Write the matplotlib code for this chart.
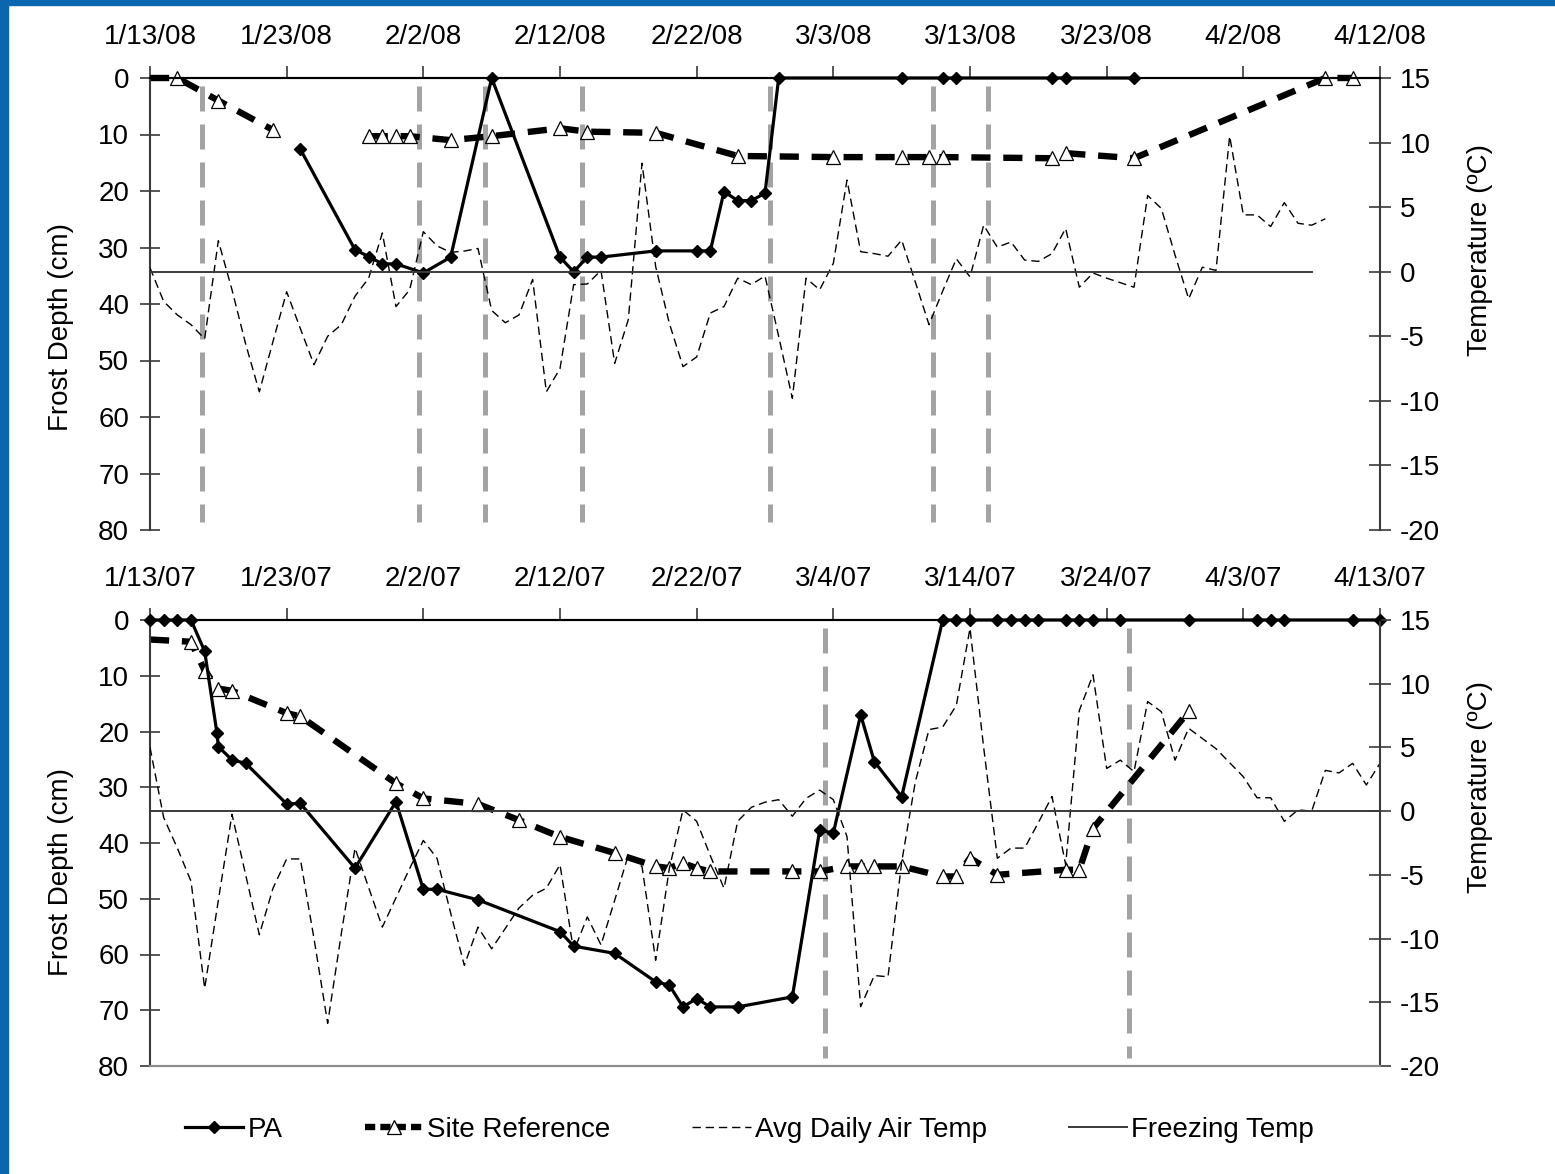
import matplotlib
matplotlib.use('Agg')
import matplotlib.pyplot as plt
from matplotlib.lines import Line2D
from matplotlib.patches import Rectangle
import numpy as np

plt.rcParams['font.family'] = ['Liberation Sans', 'DejaVu Sans']
plt.rcParams['axes.unicode_minus'] = False

# ---- 2008 season (days after 1/13/08) ----
date_labels_08 = ['1/13/08', '1/23/08', '2/2/08', '2/12/08', '2/22/08',
                  '3/3/08', '3/13/08', '3/23/08', '4/2/08', '4/12/08']
pa_day_08 = [11, 15, 16, 17, 18, 20, 22, 25, 30, 31, 32, 33, 37, 40, 41, 42,
             43, 44, 45, 46, 55, 58, 59, 66, 67, 72]
pa_depth_08 = [12.6, 30.4, 31.6, 32.9, 32.9, 34.5, 31.7, 0, 31.7, 34.3, 31.7,
               31.7, 30.6, 30.6, 30.6, 20.1, 21.7, 21.7, 20.4, 0, 0, 0, 0, 0, 0, 0]
ref_day_08 = [0, 2, 5, 9, np.nan, 16, 17, 18, 19, 22, 25, 30, 32, 37, 43, 50,
              55, 57, 58, 66, 67, 72, 86, 88]
ref_depth_08 = [0, 0, 4.0, 9.2, np.nan, 10.3, 10.3, 10.3, 10.3, 11.0, 10.3, 8.9,
                9.5, 9.7, 13.8, 14.0, 14.0, 14.0, 14.0, 14.2, 13.3, 14.2, 0, 0]
air_temp_08 = [0.3, -2.3, -3.35, -4.1, -5.2, 2.4, -1.4, -5.6, -9.3, -5.4,
               -1.55, -4.4, -7.2, -5.0, -4.1, -1.9, -0.5, 3.0, -2.7, -1.4,
               3.1, 2.0, 1.5, 1.6, 1.8, -3.0, -3.95, -3.35, -0.6, -9.3,
               -7.5, -1.0, -0.95, 0.1, -7.1, -3.7, 8.4, 0.4, -4.0, -7.35,
               -6.6, -3.2, -2.7, -0.5, -1.0, -0.33, -5.0, -9.8, -0.5, -1.4,
               0.65, 7.1, 1.55, 1.4, 1.2, 2.45, -0.8, -4.1, -1.5, 1.0,
               -0.4, 3.6, 1.9, 2.3, 0.9, 0.8, 1.4, 3.35, -1.2, -0.1,
               -0.5, -0.85, -1.2, 5.9, 4.9, 1.3, -2.1, 0.35, 0.1, 10.5,
               4.4, 4.4, 3.5, 5.35, 3.75, 3.6, 4.1]
freeze_day_08 = [0, 85]
event_day_08 = [3.8, 19.7, 24.5, 31.6, 45.4, 57.3, 61.3]

# ---- 2007 season (days after 1/13/07) ----
date_labels_07 = ['1/13/07', '1/23/07', '2/2/07', '2/12/07', '2/22/07',
                  '3/4/07', '3/14/07', '3/24/07', '4/3/07', '4/13/07']
pa_day_07 = [0, 1, 2, 3, 4, 4.9, 5, 6, 7, 10, 11, 15, 18, 20, 21, 24, 30, 31,
             34, 37, 38, 39, 40, 41, 43, 47, 49, 50, 52, 53, 55, 58, 59, 60,
             62, 63, 64, 65, 67, 68, 69, 71, 76, 81, 82, 83, 88, 90]
pa_depth_07 = [0, 0, 0, 0, 5.6, 20.3, 22.7, 25.1, 25.7, 33.0, 32.9, 44.5, 32.6,
               48.3, 48.3, 50.2, 55.9, 58.5, 59.8, 64.9, 65.5, 69.4, 67.9, 69.4,
               69.4, 67.6, 37.7, 38.2, 17.0, 25.4, 31.7, 0, 0, 0, 0, 0, 0, 0,
               0, 0, 0, 0, 0, 0, 0, 0, 0, 0]
ref_day_07 = [0, 3, 4, 5, 6, 10, 11, 18, 20, 24, 27, 30, 34, 37, 38, 39, 40,
              41, 47, 49, 51, 52, 53, 55, 58, 59, 60, 62, 67, 68, 69, 76]
ref_depth_07 = [3.5, 3.9, 9.1, 12.3, 12.7, 16.7, 17.3, 29.3, 32.0, 33.0, 35.9,
                38.9, 41.8, 44.2, 44.5, 43.6, 44.5, 45.1, 45.1, 45.1, 44.2,
                44.2, 44.2, 44.2, 46.0, 46.0, 42.7, 45.7, 44.8, 44.8, 37.4, 16.4]
air_temp_07 = [5.0, -0.5, -2.9, -5.5, -13.9, -7.0, -0.25, -5.0, -9.7, -6.05,
               -3.75, -3.75, -10.0, -16.65, -9.6, -2.9, -6.0, -9.1, -6.8, -4.5,
               -2.3, -3.7, -8.0, -12.1, -9.1, -10.8, -9.2, -7.6, -6.6, -6.05,
               -4.2, -11.0, -8.3, -10.5, -7.0, -3.45, -4.35, -11.7, -4.5, 0.1,
               -0.8, -3.5, -6.05, -0.8, 0.3, 0.7, 0.9, -0.4, 1.0, 1.65,
               0.9, -2.0, -15.35, -12.9, -13.0, -4.0, 2.3, 6.4, 6.6, 8.3,
               14.35, 5.0, -3.7, -2.9, -2.9, -0.9, 1.15, -4.2, 7.9, 10.7,
               3.35, 4.0, 3.1, 8.6, 7.8, 4.0, 6.5, 5.7, 4.9, 3.8,
               2.7, 1.05, 1.05, -0.8, 0.1, 0.0, 3.2, 3.0, 3.75, 2.05, 3.75]
freeze_day_07 = [0, 90]
event_day_07 = [49.4, 71.6]

depth_ticks = [0, 10, 20, 30, 40, 50, 60, 70, 80]
temp_ticks = [15, 10, 5, 0, -5, -10, -15, -20]
date_ticks = [0, 10, 20, 30, 40, 50, 60, 70, 80, 90]

FS = 20
AXC = '#3a3a3a'


def draw_panel(ax, date_labels, pa_day, pa_depth, ref_day, ref_depth,
               air_temp, freeze_day, event_day, bottom_spine):
    ax2 = ax.twinx()
    ax.set_xlim(0, 90)
    ax.set_ylim(80, 0)
    ax2.set_ylim(-20, 15)

    ax.vlines(event_day, 1.5, 78.5, colors='#a3a3a3', linewidth=3.6,
              linestyles=(0, (5, 2.6)), zorder=1)
    ax.plot(pa_day, pa_depth, color='black', lw=2.3, marker='D', ms=6,
            zorder=3, clip_on=False)
    ax.plot(ref_day, ref_depth, color='black', lw=4.6, dashes=(3.0, 2.0),
            marker='^', ms=10, mfc='white', mec='black', mew=0.9,
            markevery=list(range(1, len(ref_day))), zorder=2, clip_on=False)

    days = np.arange(len(air_temp))
    ax2.plot(days, air_temp, color='black', lw=1.0, dashes=(6, 3.5))
    ax2.plot(freeze_day, [0, 0], color=AXC, lw=1.4)

    ax.set_xticks(date_ticks)
    ax.set_xticklabels(date_labels)
    ax.xaxis.tick_top()
    ax.tick_params(axis='x', direction='out', length=9, width=1.2,
                   color=AXC, labelsize=FS, pad=11)
    ax.set_yticks(depth_ticks)
    ax.tick_params(axis='y', direction='inout', length=14, width=1.2,
                   color=AXC, labelsize=FS, pad=8)
    ax2.set_yticks(temp_ticks)
    ax2.tick_params(axis='y', direction='inout', length=16, width=1.2,
                    color=AXC, labelsize=FS, pad=6)

    for a in (ax, ax2):
        a.spines['top'].set_color('black')
        a.spines['top'].set_linewidth(1.5)
        a.spines['left'].set_color(AXC)
        a.spines['right'].set_color(AXC)
        a.spines['left'].set_linewidth(1.5)
        a.spines['right'].set_linewidth(1.5)
        a.spines['bottom'].set_visible(bottom_spine)
        a.spines['bottom'].set_color('#8c8c8c')
        a.spines['bottom'].set_linewidth(1.5)
    ax.spines['right'].set_visible(False)
    ax2.spines['left'].set_visible(False)

    ax.set_ylabel('Frost Depth (cm)', fontsize=FS)
    ax2.set_ylabel('Temperature (ºC)', fontsize=FS)
    return ax2


fig = plt.figure(figsize=(15.55, 11.74), dpi=100)
W, H = 1555.0, 1174.0

ax_top = fig.add_axes([150 / W, 1 - 530 / H, 1230 / W, 452 / H])
ax_bot = fig.add_axes([150 / W, 1 - 1066 / H, 1230 / W, 446 / H])

t2 = draw_panel(ax_top, date_labels_08, pa_day_08, pa_depth_08, ref_day_08,
                ref_depth_08, air_temp_08, freeze_day_08, event_day_08, False)
b2 = draw_panel(ax_bot, date_labels_07, pa_day_07, pa_depth_07, ref_day_07,
                ref_depth_07, air_temp_07, freeze_day_07, event_day_07, True)

ax_top.yaxis.set_label_coords(-0.062, 0.449)
ax_bot.yaxis.set_label_coords(-0.062, 0.435)
t2.yaxis.set_label_coords(1.0705, 0.62)
b2.yaxis.set_label_coords(1.0705, 0.626)

handles = [
    Line2D([], [], color='black', lw=2.3, marker='D', ms=6),
    Line2D([], [], color='black', lw=4.6, dashes=(1.6, 0.8), marker='^', ms=10,
           mfc='white', mec='black', mew=0.9),
    Line2D([], [], color='black', lw=1.0, dashes=(6, 3.5)),
    Line2D([], [], color=AXC, lw=1.4),
]
fig.legend(handles, ['PA', 'Site Reference', 'Avg Daily Air Temp', 'Freezing Temp'],
           loc='center', bbox_to_anchor=(0.482, 1 - 1130 / H), ncol=4,
           frameon=False, fontsize=FS, handlelength=2.1, handletextpad=0.15,
           columnspacing=2.95, markerscale=1.0)

# blue frame strips along left and top edges
fig.add_artist(Rectangle((0, 0), 8 / W, 1, transform=fig.transFigure,
                         color='#0b66b0', zorder=10))
fig.add_artist(Rectangle((0, 1 - 5 / H), 1, 5 / H, transform=fig.transFigure,
                         color='#0b66b0', zorder=10))

fig.savefig('out.png', dpi=100)
